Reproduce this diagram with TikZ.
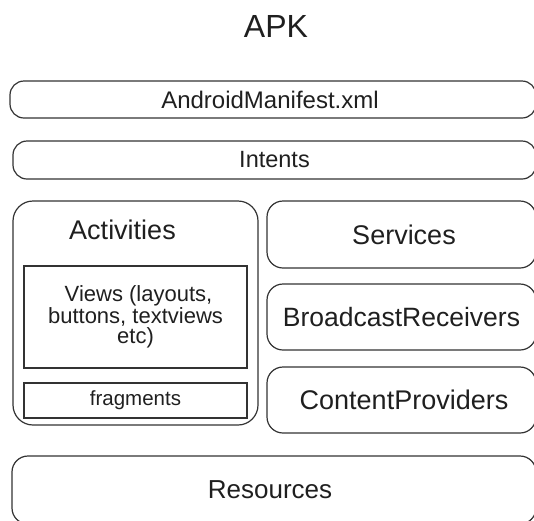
\documentclass[tikz,border=0pt]{standalone}
\usepackage{fontspec}
\setmainfont{Liberation Sans}
\begin{document}
\begin{tikzpicture}[x=1pt,y=-1pt,
  box/.style={draw=black!80, line width=1.2pt, inner sep=0pt, text=black!88, align=center},
  pill/.style={box, rounded corners=14pt},
  card/.style={box, rounded corners=16pt},
  plain/.style={box, rounded corners=0pt},
  lbl/.style={inner sep=0pt, text=black!88},
  fs/.style={font=\fontsize{#1}{#1}\selectfont}
]
\useasboundingbox (0,0) rectangle (534,520);
\clip (0,0) rectangle (534,520);

\node[lbl, fs=32] (apk) at (276,26) {APK};

\node[pill, fs=24, minimum width=526, minimum height=37] (manifest) at (273,99.5) {\hspace*{-6pt}AndroidManifest.xml};
\node[pill, fs=23.5, minimum width=523, minimum height=38] (intents) at (274.5,160) {Intents};

\node[box, rounded corners=20pt, minimum width=245, minimum height=224] (activities) at (135.5,313) {};
\node[lbl, fs=27] (actlabel) at (122.5,230) {Activities};
\node[plain, fs=22, minimum width=223, minimum height=102, font=\fontsize{22}{20}\selectfont] (views) at (135.5,317) {\hspace*{6pt}Views (layouts,\\buttons, textviews\\etc)};
\node[plain, fs=20.5, minimum width=223, minimum height=35] (fragments) at (135.5,400.5) {fragments};

\node[card, fs=27, minimum width=269, minimum height=67] (services) at (401.5,234.5) {\hspace*{5pt}Services};
\node[card, fs=26.5, minimum width=269, minimum height=66] (broadcast) at (401.5,317) {BroadcastReceivers};
\node[card, fs=27, minimum width=269, minimum height=66] (content) at (401.5,400) {\hspace*{5pt}ContentProviders};

\node[card, fs=26, minimum width=524, minimum height=68] (resources) at (274,490) {\hspace*{-8pt}Resources};
\end{tikzpicture}
\end{document}
